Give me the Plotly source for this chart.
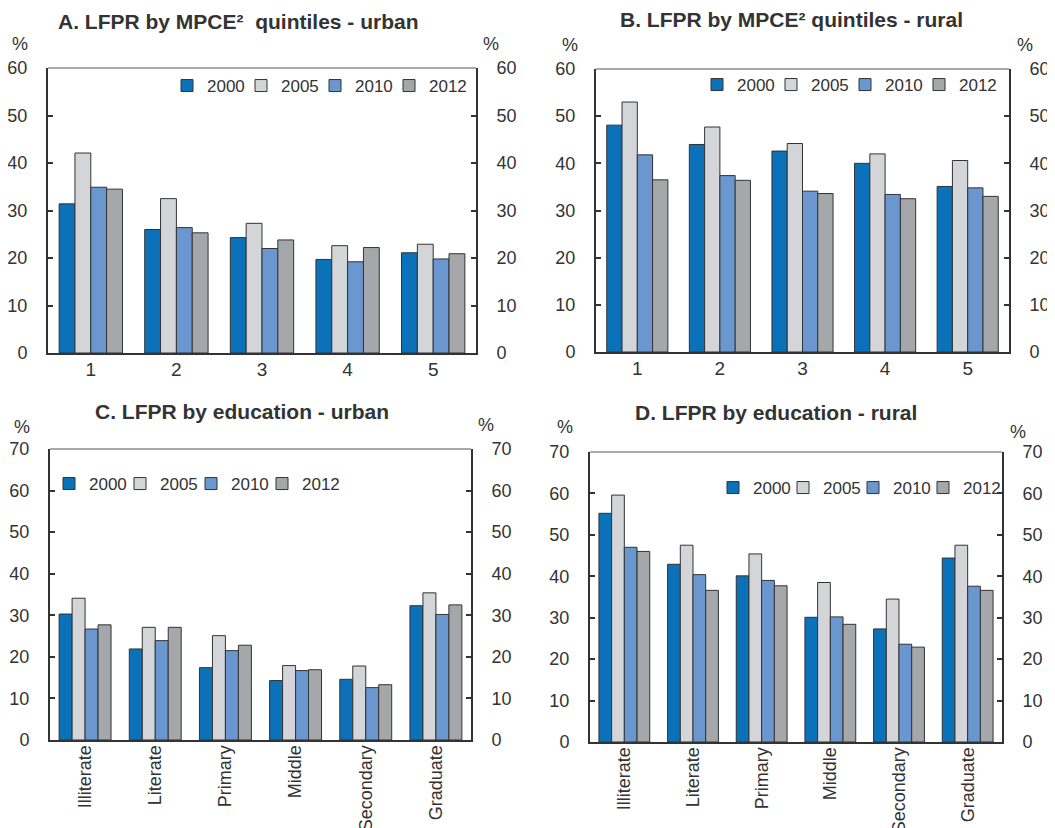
import plotly.graph_objects as go

W, H = 1055, 828
OFF = 8  # page body margin in the browser

years = ["2000", "2005", "2010", "2012"]
colors = ["#0b72b9", "#d3d5d8", "#6a97cf", "#a5a7ab"]

quintiles = ["1", "2", "3", "4", "5"]
education = ["Illiterate", "Literate", "Primary", "Middle", "Secondary", "Graduate"]

# Panel A: LFPR by MPCE quintiles - urban
a_2000 = [31.4, 26.0, 24.3, 19.7, 21.1]
a_2005 = [42.1, 32.5, 27.3, 22.6, 22.9]
a_2010 = [34.9, 26.4, 22.0, 19.2, 19.8]
a_2012 = [34.5, 25.3, 23.8, 22.2, 20.9]

# Panel B: LFPR by MPCE quintiles - rural
b_2000 = [48.1, 44.0, 42.6, 40.0, 35.1]
b_2005 = [53.0, 47.7, 44.2, 42.0, 40.6]
b_2010 = [41.8, 37.4, 34.1, 33.4, 34.8]
b_2012 = [36.5, 36.4, 33.6, 32.5, 33.0]

# Panel C: LFPR by education - urban
c_2000 = [30.3, 21.9, 17.4, 14.3, 14.6, 32.3]
c_2005 = [34.1, 27.1, 25.1, 17.9, 17.8, 35.4]
c_2010 = [26.7, 23.9, 21.5, 16.7, 12.6, 30.2]
c_2012 = [27.7, 27.1, 22.8, 16.9, 13.3, 32.5]

# Panel D: LFPR by education - rural
d_2000 = [55.2, 42.9, 40.1, 30.1, 27.3, 44.4]
d_2005 = [59.6, 47.5, 45.4, 38.5, 34.5, 47.5]
d_2010 = [47.0, 40.4, 39.0, 30.2, 23.6, 37.6]
d_2012 = [46.0, 36.6, 37.7, 28.4, 22.9, 36.6]

titles = ["A. LFPR by MPCE\u00b2  quintiles - urban",
          "B. LFPR by MPCE\u00b2 quintiles - rural",
          "C. LFPR by education - urban",
          "D. LFPR by education - rural"]

FONT = "Liberation Sans, Arial, Helvetica, sans-serif"
TXT = "#333333"


def px(x):
    return (x - OFF) / W


def py(y):
    return 1 - (y - OFF) / H


# plot-area boxes in pixels (left, right, top, bottom)
boxes = [(48, 476, 68, 353), (596, 1009, 69, 352), (50, 471, 449, 740), (590, 1002, 452, 742)]
ranges = [60, 60, 70, 70]
panels = [
    (quintiles, [a_2000, a_2005, a_2010, a_2012]),
    (quintiles, [b_2000, b_2005, b_2010, b_2012]),
    (education, [c_2000, c_2005, c_2010, c_2012]),
    (education, [d_2000, d_2005, d_2010, d_2012]),
]
legend_pos = [(167, 86, 29), (697, 85, 29), (49, 484, 26), (713, 488, 25)]
title_pos = [(238, 22), (791, 20), (242, 412), (776, 413)]
pct_left = [(20, 44), (570, 45), (22, 427), (565, 427)]
pct_right = [(491, 44), (1025, 45), (486, 425), (1018, 432)]

fig = go.Figure()
layout = dict(
    width=W, height=H, margin=dict(l=0, r=0, t=0, b=0, autoexpand=False),
    paper_bgcolor="white", plot_bgcolor="white",
    barmode="group", bargap=0.26, bargroupgap=0,
    font=dict(family=FONT, size=18, color=TXT),
    showlegend=True,
)
annotations = []
shapes = []

for i, ((cats, series), (l, r, t, b), rng) in enumerate(zip(panels, boxes, ranges)):
    n = i + 1
    xa = "x" if n == 1 else f"x{n}"
    ya = "y" if n == 1 else f"y{n}"
    yr = f"y{n + 4}"
    leg = "legend" if n == 1 else f"legend{n}"
    lx, ly, ew = legend_pos[i]
    for k, (yname, col, vals) in enumerate(zip(years, colors, series)):
        fig.add_trace(go.Bar(
            x=cats, y=vals, name=yname, xaxis=xa, yaxis=ya, legend=leg,
            legendwidth=ew if k < len(years) - 1 else 48,
            marker=dict(color=col, line=dict(color="#333333", width=1)),
            hoverinfo="x+y+name",
        ))
    # empty helper trace so the right-hand axis is drawn
    fig.add_trace(go.Scatter(x=cats, y=[None] * len(cats), xaxis=xa, yaxis=yr,
                             mode="lines", showlegend=False, hoverinfo="skip"))
    tick_common = dict(
        range=[0, rng], dtick=10, tick0=0, showgrid=False, zeroline=False,
        showline=True, linecolor="#333333", linewidth=2,
        ticks="inside", ticklen=5, tickwidth=1.5, tickcolor="#333333",
        tickfont=dict(size=18, color=TXT, family=FONT), automargin=False,
    )
    layout[f"xaxis{'' if n == 1 else n}"] = dict(
        domain=[px(l), px(r)], anchor=ya, type="category",
        categoryorder="array", categoryarray=cats, range=[-0.5, len(cats) - 0.5],
        showgrid=False, zeroline=False, showline=True, linecolor="#333333", linewidth=2,
        ticks="", tickfont=dict(size=18 if n > 2 else 19, color=TXT, family=FONT),
        tickangle=-90 if n > 2 else 0, ticklabelstandoff=-4 if n > 2 else -2,
        automargin=False,
    )
    layout[f"yaxis{'' if n == 1 else n}"] = dict(
        domain=[py(b), py(t)], anchor=xa, side="left", ticklabelstandoff=15, **tick_common)
    layout[f"yaxis{n + 4}"] = dict(
        domain=[py(b), py(t)], anchor=xa, overlaying=ya, side="right",
        ticklabelstandoff=15, **tick_common)
    layout[leg] = dict(
        orientation="h", x=px(lx), y=py(ly), xanchor="left", yanchor="middle",
        xref="paper", yref="paper", bgcolor="rgba(0,0,0,0)",
        font=dict(size=17, color=TXT, family=FONT),
        itemwidth=30, traceorder="normal",
    )
    # top border (thinner, lighter)
    shapes.append(dict(type="line", xref=f"{xa} domain", yref=f"{ya} domain",
                       x0=0, x1=1, y0=1, y1=1, line=dict(color="#555555", width=1.2)))
    tx, ty = title_pos[i]
    annotations.append(dict(text=f"<b>{titles[i]}</b>", x=px(tx), y=py(ty), xref="paper", yref="paper",
                            showarrow=False, xanchor="center", yanchor="middle",
                            font=dict(size=21, color=TXT, family=FONT)))
    for (qx, qy) in (pct_left[i], pct_right[i]):
        annotations.append(dict(text="%", x=px(qx), y=py(qy), xref="paper", yref="paper",
                                showarrow=False, xanchor="center", yanchor="middle",
                                font=dict(size=18, color=TXT, family=FONT)))

layout["annotations"] = annotations
layout["shapes"] = shapes
fig.update_layout(**layout)
fig.write_html("out.html")
